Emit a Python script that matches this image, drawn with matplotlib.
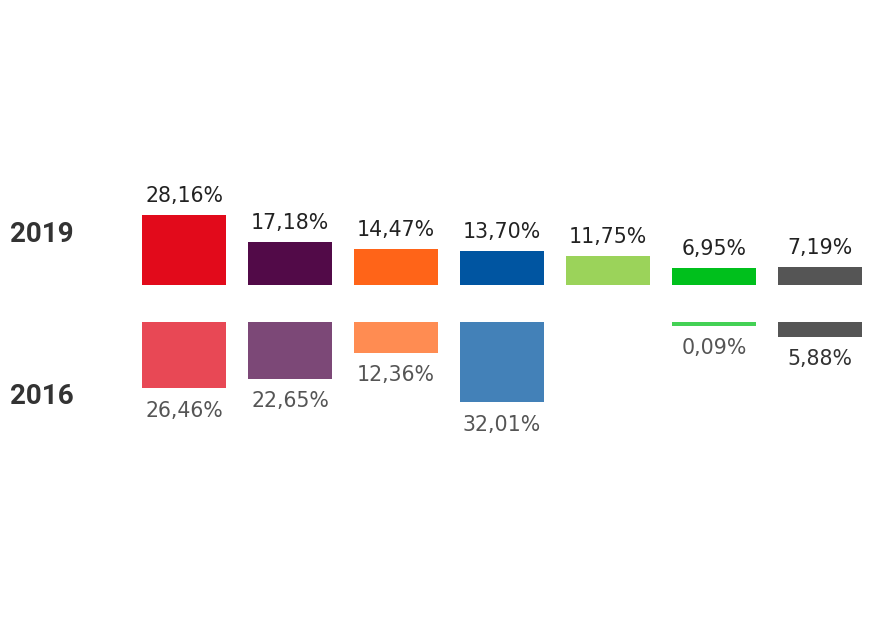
import matplotlib
matplotlib.use("Agg")
import matplotlib.pyplot as plt

# ── Data ─────────────────────────────────────────────────────────────
parties      = ["PSOE", "PP", "Cs", "UP", "Vox", "ERC", "Otros"]
votes_2019   = [28.16, 17.18, 14.47, 13.70, 11.75, 6.95, 7.19]
votes_2016   = [26.46, 22.65, 12.36, 32.01, None, 0.09, 5.88]
labels_2019  = ["28,16%", "17,18%", "14,47%", "13,70%", "11,75%", "6,95%", "7,19%"]
labels_2016  = ["26,46%", "22,65%", "12,36%", "32,01%", None, "0,09%", "5,88%"]
colors_2019  = ["#e20a1b", "#520a48", "#ff6418", "#0055a1", "#9bd35a", "#00c01c", "#555555"]
colors_2016  = ["#e84855", "#7c4877", "#ff8c52", "#4381b8", None, "#44d155", "#555555"]
label_col_16 = ["#555555", "#555555", "#555555", "#555555", None, "#555555", "#333333"]

plt.rcParams["font.family"] = ["DejaVu Sans"]

fig = plt.figure(figsize=(8.74, 6.2), dpi=100)
ax = fig.add_axes([0, 0, 1, 1])
ax.set_xlim(-1.736, 6.509)
ax.set_ylim(-126.6, 121.4)
ax.axis("off")

gap = 7.4       # half the space between the two rows (in % units)
width = 0.792
min_h = 1.4     # keep tiny values visible

for i in range(len(parties)):
    v = votes_2019[i]
    ax.bar(i, v, width=width, bottom=gap, color=colors_2019[i], linewidth=0)
    ax.text(i, gap + v + 5.2, labels_2019[i], ha="center", va="baseline",
            fontsize=14.8, color="#222222")

    w = votes_2016[i]
    if w is None:
        continue
    h = max(w, min_h)
    ax.bar(i, -h, width=width, bottom=-gap, color=colors_2016[i], linewidth=0)
    ax.text(i, -gap - h - 11.4, labels_2016[i], ha="center", va="baseline",
            fontsize=14.8, color=label_col_16[i])

for yr, ypix in [("2019", 235), ("2016", 396)]:
    ax.text(10 / 874, 1 - ypix / 620, yr, transform=ax.transAxes, ha="left",
            va="center", fontsize=20, fontweight="bold", color="#333333",
            family="Roboto")

fig.savefig("out.png", dpi=100)
